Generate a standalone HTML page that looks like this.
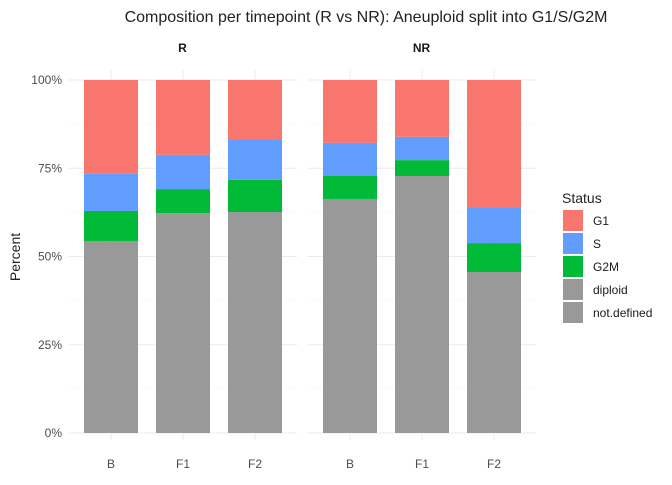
<!DOCTYPE html>
<html><head><meta charset="utf-8"><style>
body{margin:0;background:#fff;font-family:"Liberation Sans",sans-serif}
</style></head><body>
<svg id="c" width="672" height="480" xmlns="http://www.w3.org/2000/svg" font-family="Liberation Sans, sans-serif">
<text x="366" y="22" text-anchor="middle" font-size="16" fill="#222">Composition per timepoint (R vs NR): Aneuploid split into G1/S/G2M</text>
<text x="20" y="257" text-anchor="middle" font-size="14" fill="#222" transform="rotate(-90 20 257)">Percent</text>
<g id="g"></g>
<text x="562" y="203" font-size="14" fill="#222">Status</text>
</svg>
<script>
const panels=["R","NR"];
const categories=["B","F1","F2"];
const diploid=[[54.4,62.3,62.6],[66.3,72.8,45.6]];
const g2m=[[8.5,6.8,9.1],[6.5,4.5,8.2]];
const sPhase=[[10.5,9.7,11.3],[9.4,6.6,10.2]];
const g1=[[26.6,21.2,17.0],[17.8,16.1,36.0]];
const notDefined=[[0,0,0],[0,0,0]];
const yTicks=[0,25,50,75,100];
const yTickLabels=["0%","25%","50%","75%","100%"];
const legendLabels=["G1","S","G2M","diploid","not.defined"];
const colors={G1:"#F8766D",S:"#619CFF",G2M:"#00BA38",diploid:"#999999","not.defined":"#999999"};
const NS="http://www.w3.org/2000/svg",g=document.getElementById('g');
const y=v=>433-v*3.53;
const panelX=[68,307],panelW=229;
const xb=(p,i)=>panelX[p]+16+i*72;
function el(t,a,parent){const e=document.createElementNS(NS,t);for(const k in a)e.setAttribute(k,a[k]);(parent||g).appendChild(e);return e;}
panels.forEach((pn,p)=>{
 yTicks.forEach((t,i)=>{const l=el('line',{x1:panelX[p],x2:panelX[p]+panelW,y1:y(t),y2:y(t),stroke:'#ebebeb','stroke-width':1});
 
 
 if(i<4){const m=el('line',{x1:panelX[p],x2:panelX[p]+panelW,y1:y(t+12.5),y2:y(t+12.5),stroke:'#f4f4f4','stroke-width':0.6});
 
 }});
 categories.forEach((c,i)=>{const v=el('line',{x1:xb(p,i)+27,x2:xb(p,i)+27,y1:70,y2:440,stroke:'#ebebeb'});
 
 });
 const st=el('text',{x:panelX[p]+panelW/2,y:52,'text-anchor':'middle','font-size':12,'font-weight':'bold',fill:'#1a1a1a'});st.textContent=pn;
 
 
 categories.forEach((c,i)=>{
  let base=0;
  const segs=[["not.defined",notDefined[p][i]],["diploid",diploid[p][i]],["G2M",g2m[p][i]],["S",sPhase[p][i]],["G1",g1[p][i]]];
  segs.forEach(([k,v])=>{if(v<=0)return;const r=el('rect',{x:xb(p,i),width:54,y:y(base+v),height:y(base)-y(base+v),fill:colors[k]});
   
   base+=v;});
  const t=el('text',{x:xb(p,i)+27,y:468,'text-anchor':'middle','font-size':12,fill:'#4d4d4d'});t.textContent=c;
  
  
 });
});
yTicks.forEach((t,i)=>{const tx=el('text',{x:62,y:y(t)+4,'text-anchor':'end','font-size':12,fill:'#4d4d4d'});tx.textContent=yTickLabels[i];
 
 });
legendLabels.forEach((k,i)=>{const r=el('rect',{x:563,y:210+i*23,width:20,height:21,fill:colors[k]});
 
 
 const t=el('text',{x:593,y:225+i*23,'font-size':12,fill:'#1a1a1a'});t.textContent=k;
 
 });
</script>
</body></html>
